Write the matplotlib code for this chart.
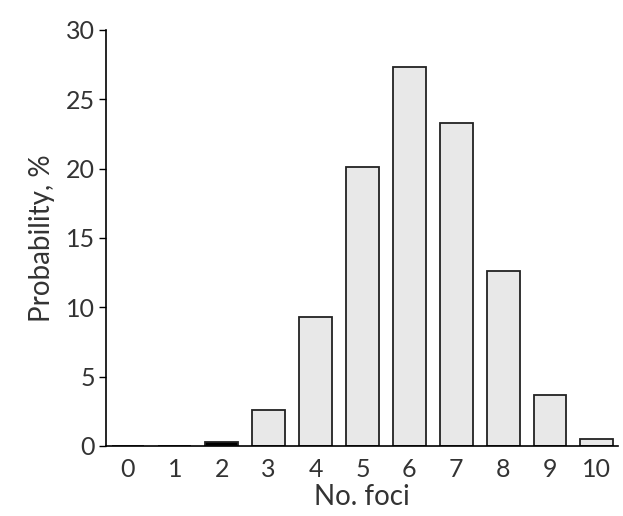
import numpy as np
import matplotlib
matplotlib.use('Agg')
import matplotlib.pyplot as plt

FONTSIZE = 18

plt.rcParams.update({
    "font.family": ["Lato", "DejaVu Sans"],
    "font.size": FONTSIZE,
    "axes.linewidth": 1.2,
})

n_foci = [0, 1, 2, 3, 4, 5, 6, 7, 8, 9, 10]
probability = [0.0, 0.0, 0.3, 2.6, 9.3, 20.1, 27.3, 23.3, 12.6, 3.7, 0.5]
yticks = [0, 5, 10, 15, 20, 25, 30]

fig = plt.figure(figsize=(6.23, 5.16), dpi=100)
ax = fig.add_axes([0.170, 0.136, 0.822, 0.806])

colors = ['black' if p < 0.4 else '#e8e8e8' for p in probability]
ax.bar(n_foci, probability, width=0.7, color=colors, edgecolor='#222222', linewidth=1.3)

ax.set_xlim(-0.47, 10.45)
ax.set_ylim(0, 30)
ax.set_xticks(n_foci)
ax.set_yticks(yticks)
ax.tick_params(axis='x', length=0, pad=9, labelcolor='#333333')
ax.tick_params(axis='y', length=5, width=1.0, pad=3, labelcolor='#333333')
ax.spines['top'].set_visible(False)
ax.spines['right'].set_visible(False)
ax.set_xlabel('No. foci', fontsize=FONTSIZE + 2, color='#333333', labelpad=2)
ax.set_ylabel('Probability, %', fontsize=FONTSIZE + 2, color='#333333', labelpad=8)

fig.savefig('out.png', dpi=100)
